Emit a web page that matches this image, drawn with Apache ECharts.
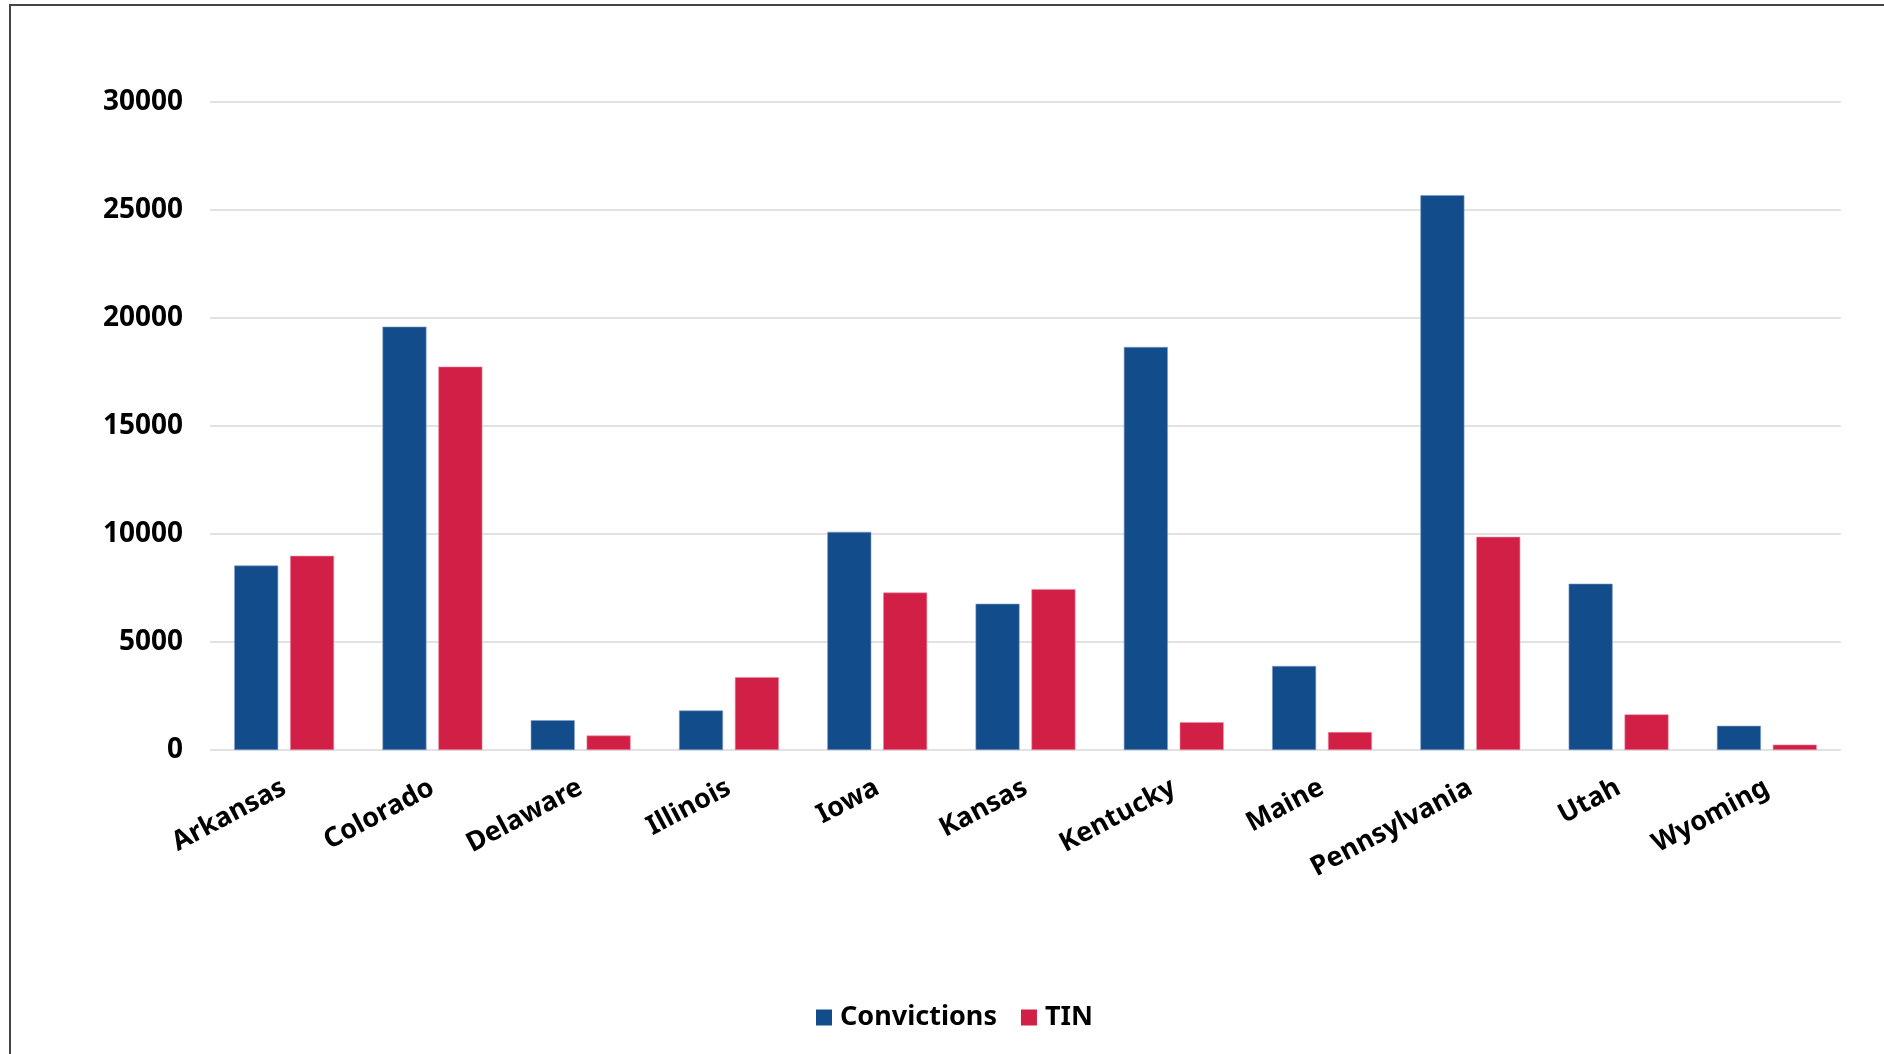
<!DOCTYPE html>
<html>
<head>
<meta charset="utf-8">
<script src="https://cdn.jsdelivr.net/npm/echarts@6/dist/echarts.min.js"></script>
<style>
html,body{margin:0;padding:0;background:#fff;}
#chart{width:1884px;height:1054px;}
</style>
</head>
<body>
<div id="chart"></div>
<script>
const categories = ['Arkansas','Colorado','Delaware','Illinois','Iowa','Kansas','Kentucky','Maine','Pennsylvania','Utah','Wyoming'];
const convictions = [8540, 19600, 1380, 1830, 10100, 6770, 18660, 3890, 25690, 7700, 1120];
const tin = [8990, 17750, 670, 3370, 7290, 7450, 1290, 830, 9870, 1650, 250];
const yTicks = {min: 0, max: 30000, interval: 5000};

const FONT = '"Noto Sans", "Open Sans", sans-serif';
const chart = echarts.init(document.getElementById('chart'), null, {renderer: 'canvas'});
chart.setOption({
  backgroundColor: '#ffffff',
  animation: false,
  textStyle: {fontFamily: FONT},
  graphic: [{
    type: 'rect',
    shape: {x: 10, y: 5, width: 2000, height: 2000},
    style: {fill: 'none', stroke: '#444444', lineWidth: 2},
    silent: true
  }],
  grid: {left: 210, right: 43, top: 102, bottom: 304, containLabel: false},
  legend: {
    left: 811,
    top: 999,
    itemWidth: 16,
    itemHeight: 16,
    itemGap: 24,
    icon: 'rect',
    itemStyle: {borderWidth: 0},
    textStyle: {fontFamily: FONT, fontSize: 27, fontWeight: 'bold', color: '#000', padding: [0, 0, 0, 3]},
    data: ['Convictions', 'TIN']
  },
  xAxis: {
    type: 'category',
    data: categories,
    axisLine: {show: false},
    axisTick: {show: false},
    axisLabel: {
      rotate: 28,
      margin: 36,
      interval: 0,
      fontFamily: FONT,
      fontSize: 27,
      fontWeight: 'bold',
      color: '#000'
    }
  },
  yAxis: {
    type: 'value',
    min: yTicks.min,
    max: yTicks.max,
    interval: yTicks.interval,
    axisLine: {show: false},
    axisTick: {show: false},
    splitLine: {lineStyle: {color: '#e2e2e2', width: 2}},
    axisLabel: {
      margin: 27,
      fontFamily: FONT,
      fontSize: 28,
      fontWeight: 'bold',
      color: '#000',
      formatter: function (v) { return String(v); }
    }
  },
  series: [
    {
      name: 'Convictions',
      type: 'bar',
      data: convictions,
      barWidth: 44,
      barGap: '27%',
      itemStyle: {color: '#134c8a', borderColor: '#7f9cc4', borderWidth: 0.6}
    },
    {
      name: 'TIN',
      type: 'bar',
      data: tin,
      barWidth: 44,
      barGap: '27%',
      itemStyle: {color: '#d21f46', borderColor: '#e88ea2', borderWidth: 0.6}
    }
  ]
});
</script>
</body>
</html>
